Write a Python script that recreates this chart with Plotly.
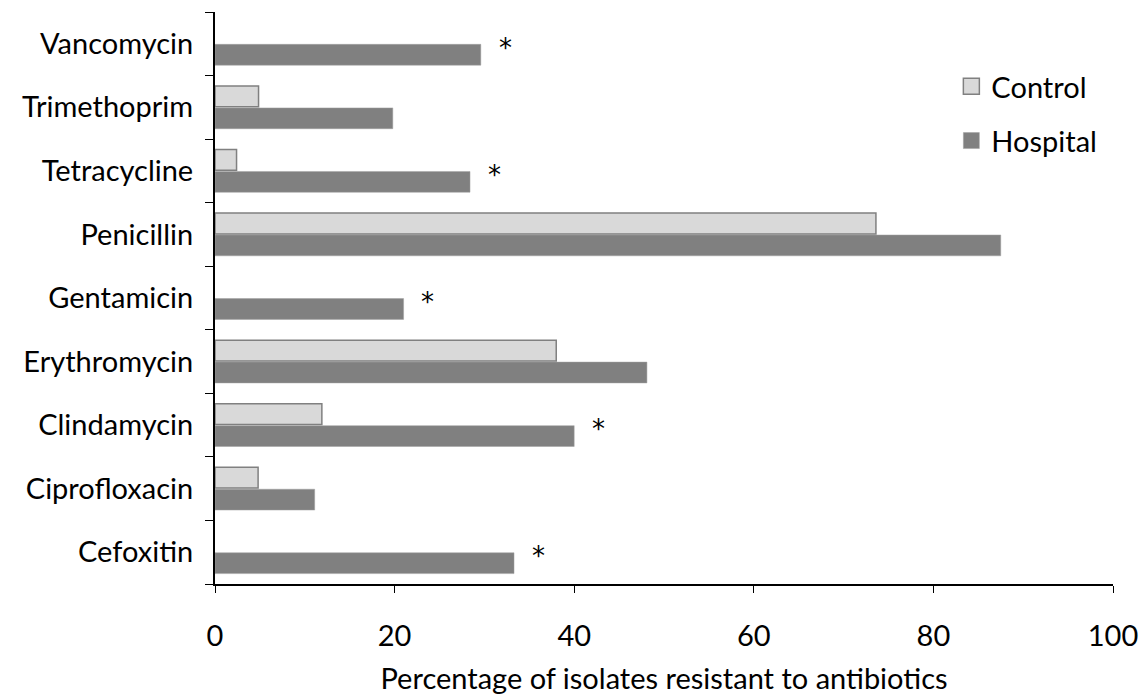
import plotly.graph_objects as go

antibiotics = ["Cefoxitin", "Ciprofloxacin", "Clindamycin", "Erythromycin", "Gentamicin",
               "Penicillin", "Tetracycline", "Trimethoprim", "Vancomycin"]
control = [None, 4.8, 11.9, 38.0, None, 73.6, 2.4, 4.85, None]
hospital = [33.3, 11.1, 40.0, 48.1, 21.0, 87.5, 28.4, 19.8, 29.6]
significant = [True, False, True, False, True, False, True, False, True]
x_ticks = [0, 20, 40, 60, 80, 100]

FONT = "Lato"
FS = 29
HOSP_COLOR, HOSP_LINE = "#808080", "#a0a0a0"
CTRL_COLOR, CTRL_LINE = "#d9d9d9", "#808080"

fig = go.Figure()
fig.add_trace(go.Bar(
    y=antibiotics, x=hospital, orientation="h", name="Hospital",
    marker=dict(color=HOSP_COLOR, line=dict(color=HOSP_LINE, width=0.5)),
    showlegend=False,
))
fig.add_trace(go.Bar(
    y=antibiotics, x=control, orientation="h", name="Control",
    marker=dict(color=CTRL_COLOR, line=dict(color=CTRL_LINE, width=1.5)),
    showlegend=False,
))
# legend keys
fig.add_trace(go.Scatter(
    x=[None], y=[None], mode="markers", name="Control", legend="legend",
    marker=dict(symbol="square", size=20, color=CTRL_COLOR, line=dict(color=CTRL_LINE, width=1.5)),
))
fig.add_trace(go.Scatter(
    x=[None], y=[None], mode="markers", name="Hospital", legend="legend2",
    marker=dict(symbol="square", size=20, color=HOSP_COLOR, line=dict(color=HOSP_LINE, width=0.5)),
))

for name, h, sig in zip(antibiotics, hospital, significant):
    if sig:
        fig.add_annotation(x=h + 2.7, y=name, text="*", showarrow=False,
                           xanchor="center", yanchor="middle", yshift=-4,
                           font=dict(family="DejaVu Sans", size=26, color="black"))

fig.update_layout(
    width=1144, height=695,
    margin=dict(l=215, r=31, t=12, b=111),
    paper_bgcolor="white", plot_bgcolor="white",
    showlegend=True,
    barmode="group", bargap=0.31, bargroupgap=0.05,
    font=dict(family=FONT, size=FS, color="black"),
    legend=dict(x=0.82, y=0.87, xanchor="left", yanchor="middle",
                font=dict(family=FONT, size=FS), bgcolor="rgba(0,0,0,0)",
                itemwidth=30, itemsizing="trace"),
    legend2=dict(x=0.82, y=0.775, xanchor="left", yanchor="middle",
                 font=dict(family=FONT, size=FS), bgcolor="rgba(0,0,0,0)",
                 itemwidth=30, itemsizing="trace"),
    xaxis=dict(range=[0, 100], tickvals=x_ticks, ticks="outside", ticklen=7,
               tickwidth=1, tickcolor="black", showline=True, linecolor="black",
               linewidth=2, showgrid=False, zeroline=False, automargin=False,
               ticklabelstandoff=18,
               title=dict(text="Percentage of isolates resistant to antibiotics",
                          font=dict(family=FONT, size=FS), standoff=20),
               tickfont=dict(family=FONT, size=FS)),
    yaxis=dict(type="category", categoryorder="array", categoryarray=antibiotics,
               range=[-0.5, 8.5], ticks="outside", tickson="boundaries", ticklen=8,
               tickwidth=1, tickcolor="black", showline=True, linecolor="black",
               linewidth=2, showgrid=False, zeroline=False, automargin=False,
               ticklabelstandoff=14, tickfont=dict(family=FONT, size=FS)),
)

fig.write_html("out.html")
